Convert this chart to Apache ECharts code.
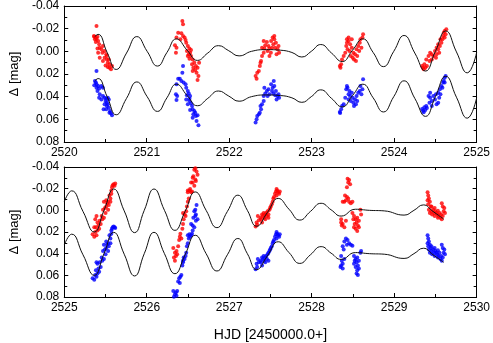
<!DOCTYPE html>
<html><head><meta charset="utf-8">
<script src="https://cdn.jsdelivr.net/npm/echarts@6/dist/echarts.min.js"></script>
<style>html,body{margin:0;padding:0;background:#fff}#c{width:493px;height:343px}</style>
</head><body><div id="c"></div>
<script>
// ---- axis ranges / labels ----
const xRangeTop = [2520, 2525];
const xRangeBottom = [2525, 2530];
const yRange = [-0.04, 0.08];
const yAxisTitle = 'Δ [mag]';
const xAxisTitle = 'HJD [2450000.0+]';

// ---- top panel observations ----
const redTop = [
[2520.391,-0.0224],[2520.360,-0.0135],[2520.364,-0.0129],[2520.380,-0.0121],[2520.391,-0.0112],[2520.372,-0.0106],[2520.403,-0.0129],[2520.411,-0.0091],[2520.383,-0.0082],[2520.423,-0.0062],[2520.430,-0.0032],[2520.403,-0.0024],[2520.450,-0.0018],[2520.469,-0.0047],[2520.462,0.0012],[2520.489,-0.0003],[2520.509,0.0026],[2520.411,0.0012],[2520.430,0.0056],[2520.489,0.0056],[2520.516,0.0071],[2520.469,0.0085],[2520.528,0.0100],[2520.548,0.0115],[2520.501,0.0124],[2520.548,0.0144],[2520.567,0.0159],[2520.528,0.0138],[2520.579,0.0129],[2520.516,0.0041],[2520.540,0.0071],
[2521.432,-0.0268],[2521.440,-0.0238],[2521.420,-0.0159],[2521.381,-0.0165],[2521.361,-0.0121],[2521.408,-0.0106],[2521.440,-0.0135],[2521.459,-0.0121],[2521.471,-0.0100],[2521.479,-0.0076],[2521.342,-0.0053],[2521.361,-0.0032],[2521.354,0.0012],[2521.498,-0.0047],[2521.518,-0.0024],[2521.487,-0.0003],[2521.526,0.0012],[2521.498,0.0041],[2521.537,0.0041],[2521.557,0.0071],[2521.518,0.0065],[2521.577,0.0100],[2521.549,0.0115],[2521.596,0.0129],[2521.565,0.0144],[2521.588,0.0165],[2521.616,0.0144],[2521.604,0.0188],[2521.557,0.0174],[2521.627,0.0218],[2521.616,0.0253],[2521.635,0.0100],[2521.537,-0.0012],[2521.510,0.0026],
[2522.320,0.0218],[2522.332,0.0241],[2522.340,0.0188],[2522.359,0.0174],[2522.371,0.0129],[2522.386,0.0085],[2522.379,0.0100],[2522.398,0.0041],[2522.418,0.0012],[2522.398,-0.0032],[2522.437,-0.0053],[2522.426,-0.0024],[2522.418,-0.0091],[2522.457,-0.0082],[2522.476,-0.0047],[2522.465,-0.0003],[2522.488,-0.0024],[2522.508,-0.0091],[2522.527,-0.0121],[2522.547,-0.0106],[2522.535,-0.0062],[2522.566,-0.0076],[2522.519,-0.0032],[2522.558,-0.0032],[2522.586,-0.0018],[2522.605,0.0012],[2522.574,0.0026],[2522.598,-0.0047],[2522.547,-0.0135],[2522.488,0.0041],[2522.505,0.0012],
[2523.341,0.0129],[2523.349,0.0144],[2523.357,0.0115],[2523.368,0.0071],[2523.388,0.0041],[2523.407,0.0012],[2523.427,-0.0076],[2523.447,-0.0091],[2523.466,-0.0062],[2523.419,-0.0047],[2523.435,-0.0018],[2523.486,-0.0032],[2523.458,-0.0003],[2523.505,0.0012],[2523.474,0.0041],[2523.497,0.0056],[2523.525,0.0026],[2523.513,0.0071],[2523.537,0.0085],[2523.544,-0.0018],[2523.564,-0.0047],[2523.583,-0.0076],[2523.603,-0.0032],[2523.576,-0.0003],[2523.591,-0.0106],[2523.623,-0.0150],[2523.615,-0.0121],[2523.552,0.0041],[2523.486,-0.0106],[2523.447,-0.0121],[2523.427,-0.0106],
[2524.338,0.0129],[2524.350,0.0144],[2524.358,0.0159],[2524.366,0.0115],[2524.378,0.0144],[2524.397,0.0129],[2524.389,0.0071],[2524.417,0.0041],[2524.436,0.0012],[2524.456,0.0026],[2524.428,0.0085],[2524.475,0.0041],[2524.495,-0.0003],[2524.514,0.0026],[2524.534,-0.0018],[2524.507,0.0056],[2524.554,-0.0047],[2524.546,0.0012],[2524.573,-0.0076],[2524.561,-0.0106],[2524.593,-0.0135],[2524.601,-0.0165],[2524.612,-0.0179],[2524.624,-0.0150],[2524.585,-0.0106],[2524.612,-0.0121],[2524.534,-0.0062],[2524.456,0.0071],[2524.632,-0.0194],[2524.514,-0.0032]
];
const blueTop = [
[2520.391,0.0174],[2520.372,0.0262],[2520.383,0.0276],[2520.391,0.0291],[2520.364,0.0300],[2520.411,0.0306],[2520.391,0.0321],[2520.423,0.0329],[2520.450,0.0306],[2520.469,0.0321],[2520.403,0.0350],[2520.430,0.0379],[2520.423,0.0409],[2520.450,0.0424],[2520.469,0.0394],[2520.489,0.0409],[2520.509,0.0418],[2520.528,0.0409],[2520.501,0.0438],[2520.516,0.0453],[2520.540,0.0424],[2520.489,0.0468],[2520.516,0.0482],[2520.540,0.0497],[2520.556,0.0526],[2520.567,0.0547],[2520.579,0.0565],[2520.548,0.0541],[2520.509,0.0512],[2520.477,0.0512],[2520.528,0.0468],
[2521.440,0.0129],[2521.432,0.0188],[2521.401,0.0241],[2521.381,0.0241],[2521.361,0.0291],[2521.420,0.0262],[2521.447,0.0276],[2521.471,0.0291],[2521.479,0.0321],[2521.354,0.0379],[2521.369,0.0394],[2521.361,0.0429],[2521.498,0.0350],[2521.510,0.0371],[2521.487,0.0388],[2521.526,0.0394],[2521.479,0.0424],[2521.518,0.0438],[2521.537,0.0459],[2521.498,0.0468],[2521.549,0.0482],[2521.557,0.0512],[2521.577,0.0526],[2521.526,0.0518],[2521.588,0.0541],[2521.565,0.0556],[2521.596,0.0571],[2521.557,0.0585],[2521.616,0.0565],[2521.604,0.0615],[2521.627,0.0653],[2521.518,0.0418],
[2522.320,0.0629],[2522.332,0.0600],[2522.340,0.0571],[2522.359,0.0556],[2522.371,0.0541],[2522.386,0.0512],[2522.379,0.0482],[2522.398,0.0468],[2522.418,0.0394],[2522.437,0.0371],[2522.426,0.0321],[2522.457,0.0350],[2522.476,0.0335],[2522.418,0.0438],[2522.488,0.0379],[2522.465,0.0394],[2522.508,0.0291],[2522.527,0.0321],[2522.547,0.0306],[2522.566,0.0350],[2522.535,0.0371],[2522.586,0.0394],[2522.558,0.0388],[2522.598,0.0379],[2522.519,0.0350],[2522.605,0.0409],[2522.574,0.0424],[2522.540,0.0262],
[2523.341,0.0535],[2523.357,0.0512],[2523.368,0.0482],[2523.388,0.0468],[2523.419,0.0335],[2523.435,0.0321],[2523.458,0.0350],[2523.447,0.0379],[2523.466,0.0394],[2523.486,0.0365],[2523.497,0.0409],[2523.474,0.0438],[2523.505,0.0453],[2523.525,0.0424],[2523.513,0.0482],[2523.537,0.0468],[2523.544,0.0394],[2523.564,0.0365],[2523.583,0.0350],[2523.603,0.0379],[2523.591,0.0306],[2523.623,0.0247],[2523.615,0.0335],[2523.552,0.0438],[2523.427,0.0306],[2523.407,0.0409],[2523.447,0.0424],[2523.345,0.0545],
[2524.338,0.0509],[2524.350,0.0524],[2524.358,0.0538],[2524.366,0.0494],[2524.378,0.0518],[2524.397,0.0500],[2524.389,0.0482],[2524.417,0.0394],[2524.436,0.0409],[2524.456,0.0438],[2524.428,0.0453],[2524.475,0.0394],[2524.495,0.0424],[2524.514,0.0468],[2524.534,0.0365],[2524.507,0.0379],[2524.554,0.0335],[2524.546,0.0409],[2524.573,0.0306],[2524.561,0.0379],[2524.593,0.0276],[2524.601,0.0262],[2524.612,0.0232],[2524.624,0.0218],[2524.585,0.0321],[2524.612,0.0276],[2524.534,0.0453],[2524.456,0.0482],[2524.436,0.0365]
];

// ---- bottom panel observations ----
const redBottom = [
[2525.344,0.0221],[2525.364,0.0244],[2525.376,0.0200],[2525.391,0.0229],[2525.403,0.0185],[2525.384,0.0156],[2525.415,0.0141],[2525.423,0.0171],[2525.442,0.0126],[2525.403,0.0112],[2525.430,0.0097],[2525.462,0.0082],[2525.454,0.0053],[2525.481,0.0068],[2525.501,0.0024],[2525.493,-0.0021],[2525.470,-0.0006],[2525.520,-0.0065],[2525.509,-0.0035],[2525.532,-0.0079],[2525.540,-0.0050],[2525.560,-0.0109],[2525.548,-0.0138],[2525.571,-0.0182],[2525.579,-0.0212],[2525.587,-0.0232],[2525.599,-0.0241],[2525.610,-0.0226],[2525.618,-0.0247],[2525.571,-0.0153],[2525.560,-0.0079],[2525.532,-0.0006],[2525.391,0.0053],[2525.376,0.0082],[2525.481,-0.0079],[2525.509,-0.0094],[2525.364,0.0156],
[2526.322,0.0347],[2526.342,0.0391],[2526.361,0.0376],[2526.354,0.0421],[2526.369,0.0406],[2526.330,0.0435],[2526.342,0.0465],[2526.381,0.0332],[2526.393,0.0274],[2526.401,0.0244],[2526.420,0.0259],[2526.408,0.0215],[2526.432,0.0171],[2526.440,0.0126],[2526.448,0.0082],[2526.459,0.0038],[2526.471,0.0053],[2526.440,0.0024],[2526.479,0.0009],[2526.498,-0.0079],[2526.487,-0.0035],[2526.510,-0.0109],[2526.498,-0.0168],[2526.518,-0.0182],[2526.538,-0.0168],[2526.498,-0.0182],[2526.526,-0.0197],[2526.549,-0.0174],[2526.557,-0.0256],[2526.577,-0.0226],[2526.538,-0.0256],[2526.565,-0.0315],[2526.589,-0.0285],[2526.596,-0.0271],[2526.577,-0.0374],[2526.589,-0.0388],[2526.604,-0.0359],[2526.596,-0.0403],[2526.616,-0.0329],[2526.557,-0.0300],
[2527.320,0.0150],[2527.339,0.0132],[2527.332,0.0112],[2527.359,0.0091],[2527.347,0.0053],[2527.379,0.0068],[2527.398,0.0038],[2527.386,0.0082],[2527.410,0.0053],[2527.418,0.0024],[2527.425,0.0068],[2527.437,0.0038],[2527.449,0.0024],[2527.457,0.0053],[2527.465,0.0009],[2527.476,0.0038],[2527.488,-0.0006],[2527.496,-0.0021],[2527.504,-0.0035],[2527.516,-0.0056],[2527.527,-0.0079],[2527.535,-0.0109],[2527.543,-0.0124],[2527.555,-0.0153],[2527.567,-0.0174],[2527.574,-0.0197],[2527.582,-0.0182],[2527.594,-0.0168],[2527.606,-0.0153],[2527.574,-0.0138],[2527.613,-0.0174],[2527.437,0.0082],[2527.398,0.0112],[2527.476,0.0068],
[2528.435,-0.0291],[2528.454,-0.0279],[2528.443,-0.0256],[2528.466,-0.0241],[2528.427,-0.0212],[2528.404,-0.0138],[2528.427,-0.0124],[2528.415,-0.0094],[2528.443,-0.0109],[2528.396,-0.0079],[2528.454,-0.0079],[2528.494,-0.0079],[2528.474,-0.0065],[2528.376,-0.0079],[2528.357,0.0112],[2528.365,0.0141],[2528.376,0.0126],[2528.396,0.0156],[2528.357,0.0082],[2528.415,0.0097],[2528.494,0.0024],[2528.513,0.0053],[2528.533,0.0082],[2528.552,0.0068],[2528.544,0.0112],[2528.521,0.0126],[2528.560,0.0141],[2528.533,0.0171],[2528.572,0.0156],[2528.552,0.0191],[2528.513,0.0156],[2528.591,-0.0006],[2528.599,0.0038],[2528.572,0.0097],[2528.505,0.0082],
[2529.405,-0.0168],[2529.413,-0.0138],[2529.421,-0.0109],[2529.405,-0.0094],[2529.433,-0.0079],[2529.413,-0.0056],[2529.444,-0.0035],[2529.421,-0.0006],[2529.433,0.0024],[2529.452,0.0009],[2529.460,0.0038],[2529.472,-0.0006],[2529.483,0.0024],[2529.491,-0.0021],[2529.499,0.0009],[2529.511,0.0024],[2529.522,0.0038],[2529.530,0.0003],[2529.538,0.0053],[2529.550,0.0024],[2529.561,0.0068],[2529.569,0.0038],[2529.577,0.0082],[2529.589,0.0053],[2529.600,0.0009],[2529.608,-0.0021],[2529.577,-0.0065],[2529.589,-0.0035],[2529.616,0.0024],[2529.530,0.0068],[2529.491,0.0053],[2529.452,-0.0035]
];
const blueBottom = [
[2525.344,0.0626],[2525.364,0.0641],[2525.376,0.0597],[2525.391,0.0612],[2525.403,0.0582],[2525.384,0.0553],[2525.415,0.0538],[2525.423,0.0568],[2525.442,0.0524],[2525.403,0.0494],[2525.430,0.0479],[2525.462,0.0465],[2525.454,0.0435],[2525.481,0.0450],[2525.501,0.0406],[2525.493,0.0362],[2525.470,0.0376],[2525.520,0.0318],[2525.509,0.0347],[2525.532,0.0303],[2525.540,0.0332],[2525.560,0.0259],[2525.548,0.0229],[2525.571,0.0185],[2525.579,0.0171],[2525.587,0.0156],[2525.599,0.0150],[2525.610,0.0156],[2525.618,0.0162],[2525.571,0.0215],[2525.560,0.0303],[2525.532,0.0376],[2525.391,0.0479],[2525.481,0.0318],[2525.509,0.0288],
[2526.322,0.0744],[2526.342,0.0774],[2526.361,0.0788],[2526.354,0.0759],[2526.330,0.0797],[2526.369,0.0744],[2526.381,0.0656],[2526.393,0.0626],[2526.401,0.0671],[2526.408,0.0612],[2526.420,0.0597],[2526.432,0.0509],[2526.440,0.0465],[2526.448,0.0435],[2526.459,0.0450],[2526.471,0.0421],[2526.440,0.0479],[2526.479,0.0391],[2526.498,0.0303],[2526.487,0.0332],[2526.510,0.0259],[2526.498,0.0229],[2526.518,0.0221],[2526.538,0.0229],[2526.526,0.0244],[2526.549,0.0215],[2526.557,0.0185],[2526.577,0.0156],[2526.538,0.0126],[2526.565,0.0068],[2526.589,0.0053],[2526.596,0.0097],[2526.577,0.0009],[2526.589,-0.0006],[2526.604,-0.0050],[2526.596,0.0038],[2526.616,0.0082],[2526.557,0.0141],
[2527.320,0.0544],[2527.339,0.0524],[2527.332,0.0494],[2527.359,0.0479],[2527.347,0.0450],[2527.379,0.0465],[2527.398,0.0435],[2527.386,0.0479],[2527.410,0.0450],[2527.418,0.0421],[2527.425,0.0465],[2527.437,0.0435],[2527.449,0.0421],[2527.457,0.0450],[2527.465,0.0406],[2527.476,0.0391],[2527.488,0.0376],[2527.496,0.0362],[2527.504,0.0347],[2527.516,0.0332],[2527.527,0.0303],[2527.535,0.0288],[2527.543,0.0274],[2527.555,0.0244],[2527.567,0.0221],[2527.574,0.0200],[2527.582,0.0215],[2527.594,0.0229],[2527.606,0.0244],[2527.574,0.0259],[2527.613,0.0221],[2527.437,0.0479],[2527.476,0.0465],[2527.398,0.0509],
[2528.415,0.0259],[2528.435,0.0274],[2528.396,0.0288],[2528.427,0.0318],[2528.454,0.0303],[2528.376,0.0332],[2528.474,0.0318],[2528.494,0.0326],[2528.388,0.0362],[2528.357,0.0421],[2528.365,0.0465],[2528.376,0.0494],[2528.396,0.0450],[2528.357,0.0509],[2528.349,0.0524],[2528.376,0.0538],[2528.513,0.0421],[2528.533,0.0450],[2528.552,0.0435],[2528.544,0.0479],[2528.521,0.0465],[2528.560,0.0509],[2528.533,0.0524],[2528.572,0.0538],[2528.552,0.0553],[2528.544,0.0582],[2528.560,0.0597],[2528.513,0.0494],[2528.591,0.0391],[2528.599,0.0376],[2528.572,0.0465],
[2529.405,0.0229],[2529.413,0.0259],[2529.421,0.0288],[2529.405,0.0303],[2529.433,0.0318],[2529.413,0.0332],[2529.444,0.0347],[2529.421,0.0362],[2529.433,0.0391],[2529.452,0.0376],[2529.460,0.0406],[2529.472,0.0362],[2529.483,0.0391],[2529.491,0.0347],[2529.499,0.0376],[2529.511,0.0391],[2529.522,0.0406],[2529.530,0.0368],[2529.538,0.0421],[2529.550,0.0391],[2529.561,0.0450],[2529.569,0.0421],[2529.577,0.0465],[2529.589,0.0435],[2529.600,0.0391],[2529.608,0.0362],[2529.577,0.0318],[2529.589,0.0347],[2529.616,0.0406],[2529.530,0.0435],[2529.491,0.0421],[2529.452,0.0332]
];

// ---- model curves (extrema and crossings) ----
const curveRedTop = [
[2520.37,-0.013],[2520.41,-0.015],[2520.52,0.001],[2520.63,0.016],[2520.755,0.0015],[2520.88,-0.013],[2521.005,0.000],[2521.13,0.013],[2521.245,0.001],[2521.36,-0.011],[2521.49,-0.001],[2521.615,0.008],[2521.74,0.0015],[2521.87,-0.005],[2521.995,-0.0005],[2522.12,0.004],[2522.27,0.000],[2522.45,-0.0015],[2522.62,-0.001],[2522.76,0.001],[2522.88,0.005],[2522.995,0.000],[2523.11,-0.006],[2523.24,0.0015],[2523.37,0.009],[2523.495,-0.001],[2523.62,-0.011],[2523.745,0.001],[2523.87,0.0135],[2523.995,0.000],[2524.12,-0.014],[2524.25,0.0015],[2524.38,0.0174],[2524.5,0.000],[2524.625,-0.018],[2524.755,0.0005],[2524.886,0.019],[2525.0,0.001]
];
const curveBlueTop = [
[2520.37,0.026],[2520.41,0.024],[2520.52,0.040],[2520.63,0.056],[2520.755,0.0415],[2520.88,0.027],[2521.005,0.040],[2521.13,0.053],[2521.245,0.041],[2521.36,0.029],[2521.49,0.039],[2521.615,0.048],[2521.74,0.0415],[2521.87,0.035],[2521.995,0.0395],[2522.12,0.044],[2522.27,0.040],[2522.45,0.0385],[2522.62,0.039],[2522.76,0.041],[2522.88,0.045],[2522.995,0.040],[2523.11,0.034],[2523.24,0.0415],[2523.37,0.049],[2523.495,0.039],[2523.62,0.029],[2523.745,0.041],[2523.87,0.0535],[2523.995,0.040],[2524.12,0.026],[2524.25,0.0415],[2524.38,0.0574],[2524.5,0.040],[2524.625,0.022],[2524.755,0.0405],[2524.886,0.059],[2525.0,0.041]
];
const curveRedBottom = [
[2525.0,-0.008],[2525.09,-0.018],[2525.227,0.001],[2525.364,0.020],[2525.482,0.000],[2525.60,-0.0197],[2525.727,0.0005],[2525.853,0.0206],[2525.97,0.000],[2526.088,-0.0197],[2526.215,0.000],[2526.342,0.0185],[2526.465,0.001],[2526.588,-0.017],[2526.72,0.000],[2526.851,0.016],[2526.978,0.001],[2527.105,-0.014],[2527.22,0.000],[2527.332,0.0147],[2527.463,0.002],[2527.594,-0.011],[2527.725,-0.001],[2527.856,0.009],[2527.985,0.001],[2528.114,-0.0065],[2528.235,-0.0005],[2528.357,0.0053],[2528.53,-0.001],[2528.7,0.000],[2528.88,0.0005],[2529.12,0.0044],[2529.24,0.000],[2529.354,-0.005],[2529.47,0.001],[2529.6,0.008]
];
const curveBlueBottom = [
[2525.0,0.032],[2525.09,0.022],[2525.227,0.041],[2525.364,0.060],[2525.482,0.040],[2525.60,0.0203],[2525.727,0.0405],[2525.853,0.0606],[2525.97,0.040],[2526.088,0.0203],[2526.215,0.040],[2526.342,0.0585],[2526.465,0.041],[2526.588,0.023],[2526.72,0.040],[2526.851,0.056],[2526.978,0.041],[2527.105,0.026],[2527.22,0.040],[2527.332,0.0547],[2527.463,0.042],[2527.594,0.029],[2527.725,0.039],[2527.856,0.049],[2527.985,0.041],[2528.114,0.0335],[2528.235,0.0395],[2528.357,0.0453],[2528.53,0.039],[2528.7,0.040],[2528.88,0.0405],[2529.12,0.0444],[2529.24,0.040],[2529.354,0.035],[2529.47,0.041],[2529.6,0.048]
];

// ---- styling ----
const FONT = 'Liberation Sans, Arial, sans-serif';
const RED = '#ff0000', BLUE = '#0000ff', CURVE = '#111111';
const LEFT = 54, WIDTH = 426, HEIGHT = 136;

function xAxisDef(gi, range, pos, labels, name) {
  return {
    type: 'value', gridIndex: gi, position: pos, min: range[0], max: range[1], interval: 1,
    axisLine: { show: true, onZero: false, lineStyle: { color: '#000', width: 1 } },
    axisTick: { show: true, inside: true, length: 4, lineStyle: { color: '#000' } },
    minorTick: { show: true, splitNumber: 2, length: 3, lineStyle: { color: '#000' } },
    splitLine: { show: false }, minorSplitLine: { show: false },
    axisLabel: { show: labels, margin: 5, color: '#000', fontFamily: FONT, fontSize: 12,
      hideOverlap: false, showMinLabel: true, showMaxLabel: true, formatter: v => String(Math.round(v)) },
    name: name || '', nameLocation: 'middle', nameGap: 31,
    nameTextStyle: { fontFamily: FONT, fontSize: 14, color: '#000' }
  };
}
function yAxisDef(gi, pos, labels, name) {
  return {
    type: 'value', gridIndex: gi, position: pos, inverse: true, min: yRange[0], max: yRange[1], interval: 0.02,
    axisLine: { show: true, onZero: false, lineStyle: { color: '#000', width: 1 } },
    axisTick: { show: true, inside: true, length: 4, lineStyle: { color: '#000' } },
    minorTick: { show: true, splitNumber: 2, length: 3, lineStyle: { color: '#000' } },
    splitLine: { show: false }, minorSplitLine: { show: false },
    axisLabel: { show: labels, margin: 5, color: '#000', fontFamily: FONT, fontSize: 12,
      showMinLabel: true, showMaxLabel: true,
      formatter: v => (Math.abs(v) < 1e-9 ? 0 : v).toFixed(2) },
    name: name || '', nameLocation: 'middle', nameGap: 38, nameRotate: 90,
    nameTextStyle: { fontFamily: FONT, fontSize: 13, color: '#000' }
  };
}
function scatter(data, color, ax) {
  return { type: 'scatter', data, xAxisIndex: ax, yAxisIndex: ax, symbol: 'circle', symbolSize: 4,
    itemStyle: { color }, z: 2, silent: true, animation: false };
}
function curve(data, ax) {
  return { type: 'line', data, xAxisIndex: ax, yAxisIndex: ax, smooth: 0.5, showSymbol: false, symbol: 'none',
    lineStyle: { color: CURVE, width: 1 }, z: 3, silent: true, animation: false, clip: true };
}

const chart = echarts.init(document.getElementById('c'), null, { renderer: 'canvas' });
chart.setOption({
  backgroundColor: '#fff',
  animation: false,
  grid: [
    { left: LEFT, top: 6, width: WIDTH, height: HEIGHT },
    { left: LEFT, top: 167, width: WIDTH, height: HEIGHT }
  ],
  xAxis: [
    xAxisDef(0, xRangeTop, 'bottom', true),
    xAxisDef(1, xRangeBottom, 'bottom', true, xAxisTitle),
    xAxisDef(0, xRangeTop, 'top', false),
    xAxisDef(1, xRangeBottom, 'top', false)
  ],
  yAxis: [
    yAxisDef(0, 'left', true, yAxisTitle),
    yAxisDef(1, 'left', true, yAxisTitle),
    yAxisDef(0, 'right', false),
    yAxisDef(1, 'right', false)
  ],
  series: [
    scatter(redTop, RED, 0), scatter(blueTop, BLUE, 0),
    scatter(redBottom, RED, 1), scatter(blueBottom, BLUE, 1),
    curve(curveRedTop, 0), curve(curveBlueTop, 0),
    curve(curveRedBottom, 1), curve(curveBlueBottom, 1)
  ]
});
</script>
</body></html>
